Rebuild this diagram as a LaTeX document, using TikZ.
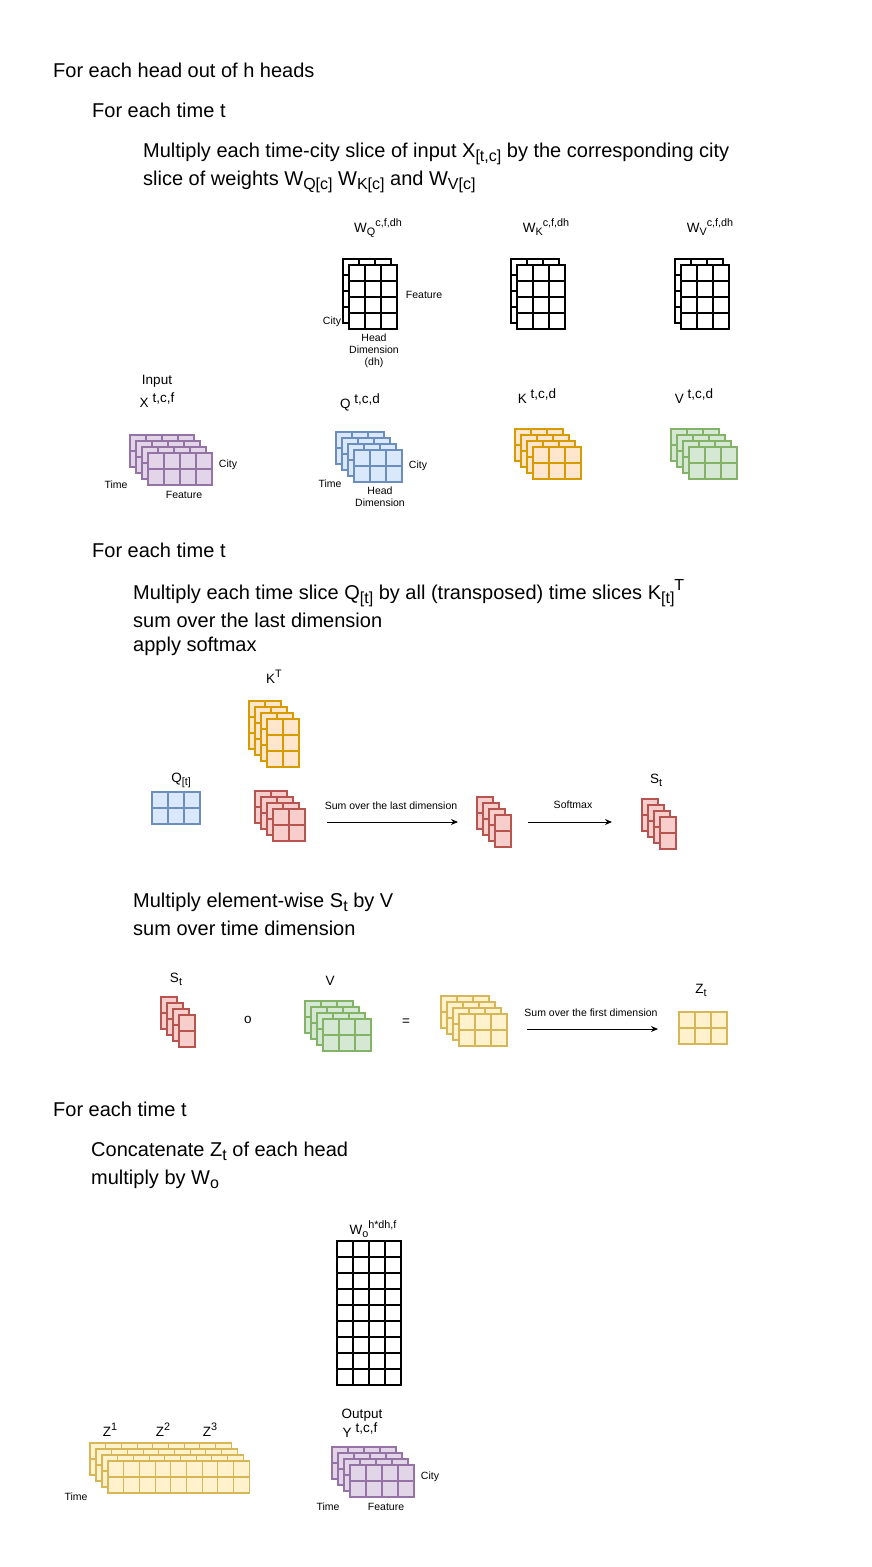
\documentclass[tikz,border=0pt]{standalone}
\usepackage{fontspec}
\setmainfont{Liberation Sans}
\usetikzlibrary{arrows.meta}
\definecolor{pfill}{HTML}{E1D5E7}\definecolor{pline}{HTML}{9673A6}
\definecolor{bfill}{HTML}{DAE8FC}\definecolor{bline}{HTML}{6C8EBF}
\definecolor{ofill}{HTML}{FFE6CC}\definecolor{oline}{HTML}{D79B00}
\definecolor{gfill}{HTML}{D5E8D4}\definecolor{gline}{HTML}{82B366}
\definecolor{rfill}{HTML}{F8CECC}\definecolor{rline}{HTML}{B85450}
\definecolor{yfill}{HTML}{FFF2CC}\definecolor{yline}{HTML}{D6B656}
\newcommand\fontHead{\fontsize{20}{24}\selectfont}
\newcommand\fontMid{\fontsize{13.5}{16}\selectfont}
\newcommand\fontSmall{\fontsize{10.5}{11.8}\selectfont}
\makeatletter
\newcommand\supx[1]{\pgfmathsetmacro\tmpsz{0.8*\f@size}\raisebox{0.42em}{\fontsize{\tmpsz}{\tmpsz}\selectfont #1}}
\newcommand\subx[1]{\pgfmathsetmacro\tmpsz{0.8*\f@size}\raisebox{-0.24em}{\fontsize{\tmpsz}{\tmpsz}\selectfont #1}}
\makeatother
\newcommand\supf[1]{\raisebox{0.3em}{#1}}
% one grid layer: x, y, cols, rows, cell w, cell h, fill, line
\newcommand\mygrid[8]{%
  \fill[#7] (#1,#2) rectangle ++({#3*#5},{#4*#6});
  \foreach \i in {0,...,#3} \draw[#8,gridline] ({#1+\i*#5},#2) -- ++(0,{#4*#6});
  \foreach \j in {0,...,#4} \draw[#8,gridline] (#1,{#2+\j*#6}) -- ++({#3*#5},0);
}
% stack of layers: front x, front y, cols, rows, cw, ch, layers, fill, line
\newcommand\stackgrid[9]{%
  \foreach \k in {#7,...,1}{%
    \pgfmathsetmacro\ox{#1-6*(\k-1)}%
    \pgfmathsetmacro\oy{#2-6*(\k-1)}%
    \mygrid{\ox}{\oy}{#3}{#4}{#5}{#6}{#8}{#9}%
  }%
}
\begin{document}
\begin{tikzpicture}[x=1pt,y=-1pt,
  gridline/.style={line width=1.1pt,line cap=rect},
  hd/.style={anchor=base west,font=\fontHead,inner sep=0pt},
  lb/.style={anchor=base,font=\fontMid,inner sep=0pt},
  sm/.style={font=\fontSmall,inner sep=0pt,align=center},
  arr/.style={-{Stealth[length=7pt,width=6pt]},line width=0.9pt}]
\fill[white] (0,0) rectangle (872,1567);
\path[use as bounding box] (0,0) rectangle (872,1567);

% headings
\node[hd] (h1) at (53,77) {For each head out of h heads};
\node[hd] (h2) at (92,117) {For each time t};
\node[hd] (h3) at (143,157) {Multiply each time-city slice of input X\subx{[t,c]} by the corresponding city};
\node[hd] (h4) at (143,185) {slice of weights W\subx{Q[c]} W\subx{K[c]} and W\subx{V[c]}};
\node[hd] (h5) at (92,557) {For each time t};
\node[hd] (h6) at (133,599) {Multiply each time slice Q\subx{[t]} by all (transposed) time slices K\subx{[t]}\supx{T}};
\node[hd] (h7) at (133,627) {sum over the last dimension};
\node[hd] (h8) at (133,651) {apply softmax};
\node[hd] (h9) at (133,907) {Multiply element-wise S\subx{t} by V};
\node[hd] (h10) at (133,935) {sum over time dimension};
\node[hd] (h11) at (53,1116) {For each time t};
\node[hd] (h12) at (91,1156) {Concatenate Z\subx{t} of each head};
\node[hd] (h13) at (91,1184) {multiply by W\subx{o}};

% weight matrices
\stackgrid{349}{265}{3}{4}{16}{16}{2}{white}{black}
\stackgrid{517}{265}{3}{4}{16}{16}{2}{white}{black}
\stackgrid{681}{265}{3}{4}{16}{16}{2}{white}{black}
\node[lb] (wq) at (378,232) {W\subx{Q}\supx{c,f,dh}};
\node[lb] (wk) at (546,232) {W\subx{K}\supx{c,f,dh}};
\node[lb] (wv) at (710,232) {W\subx{V}\supx{c,f,dh}};
\node[sm] (wqcity) at (332,322) {City};
\node[sm] (wqfeat) at (424,295) {Feature};
\node[sm] (wqhead) at (374,351) {Head\\Dimension\\(dh)};

% input X, Q, K, V
\stackgrid{148}{453}{4}{2}{16}{16}{4}{pfill}{pline}
\stackgrid{354}{450}{3}{2}{16}{16}{4}{bfill}{bline}
\stackgrid{533}{447}{3}{2}{16}{16}{4}{ofill}{oline}
\stackgrid{689}{447}{3}{2}{16}{16}{4}{gfill}{gline}
\node[lb] (xin) at (157,384) {Input};
\node[lb] (xl) at (157,407) {X \supf{t,c,f}};
\node[lb] (ql) at (360,408) {Q \supf{t,c,d}};
\node[lb] (kl) at (537,403) {K \supf{t,c,d}};
\node[lb] (vl) at (694,403) {V \supf{t,c,d}};
\node[sm] (xcity) at (228,465) {City};
\node[sm] (xtime) at (116,485) {Time};
\node[sm] (xfeat) at (184,495) {Feature};
\node[sm] (qcity) at (418,466) {City};
\node[sm] (qtime) at (330,484) {Time};
\node[sm] (qhead) at (380,497) {Head\\Dimension};

% scores
\stackgrid{267}{719}{2}{3}{16}{16}{4}{ofill}{oline}
\stackgrid{152}{792}{3}{2}{16}{16}{1}{bfill}{bline}
\stackgrid{273}{809}{2}{2}{16}{16}{4}{rfill}{rline}
\stackgrid{495}{815}{1}{2}{16}{16}{4}{rfill}{rline}
\stackgrid{660}{817}{1}{2}{16}{16}{4}{rfill}{rline}
\node[lb] (ktl) at (274,683) {K\supx{T}};
\node[lb] (qtl) at (181,782) {Q\subx{[t]}};
\node[lb] (stl) at (656,783) {S\subx{t}};
\coordinate (a1s) at (327,822); \coordinate (a1e) at (458,822);
\coordinate (a2s) at (528,822); \coordinate (a2e) at (612,822);
\draw[arr] (a1s) -- (a1e);
\draw[arr] (a2s) -- (a2e);
\node[sm] (a1l) at (391,806) {Sum over the last dimension};
\node[sm] (a2l) at (573,805) {Softmax};

% weighted sum
\stackgrid{179}{1015}{1}{2}{16}{16}{4}{rfill}{rline}
\stackgrid{323}{1019}{3}{2}{16}{16}{4}{gfill}{gline}
\stackgrid{459}{1014}{3}{2}{16}{16}{4}{yfill}{yline}
\stackgrid{679}{1012}{3}{2}{16}{16}{1}{yfill}{yline}
\node[lb] (st2) at (176,982) {S\subx{t}};
\node[lb] (v2) at (330,985) {V};
\node[lb] (zt) at (701,993) {Z\subx{t}};
\node[font=\fontMid,inner sep=0pt] (hada) at (248,1020) {o};
\node[font=\fontMid,inner sep=0pt] (eq) at (406,1022) {=};
\coordinate (a3s) at (527,1029); \coordinate (a3e) at (658,1029);
\draw[arr] (a3s) -- (a3e);
\node[sm] (a3l) at (591,1013) {Sum over the first dimension};

% output
\stackgrid{337}{1241}{4}{9}{16}{16}{1}{white}{black}
\node[lb] (wo) at (373,1234) {W\subx{o}\supx{h*dh,f}};
\stackgrid{108}{1461}{9}{2}{15.7}{16}{4}{yfill}{yline}
\node[lb] (z1) at (110,1436) {Z\supx{1}};
\node[lb] (z2) at (163,1436) {Z\supx{2}};
\node[lb] (z3) at (210,1436) {Z\supx{3}};
\node[sm] (ztime) at (76,1497) {Time};
\stackgrid{350}{1465}{4}{2}{16}{16}{4}{pfill}{pline}
\node[lb] (outl) at (362,1418) {Output};
\node[lb] (yl) at (360,1437) {Y \supf{t,c,f}};
\node[sm] (ycity) at (430,1477) {City};
\node[sm] (ytime) at (328,1507) {Time};
\node[sm] (yfeat) at (386,1507) {Feature};
\end{tikzpicture}
\end{document}
